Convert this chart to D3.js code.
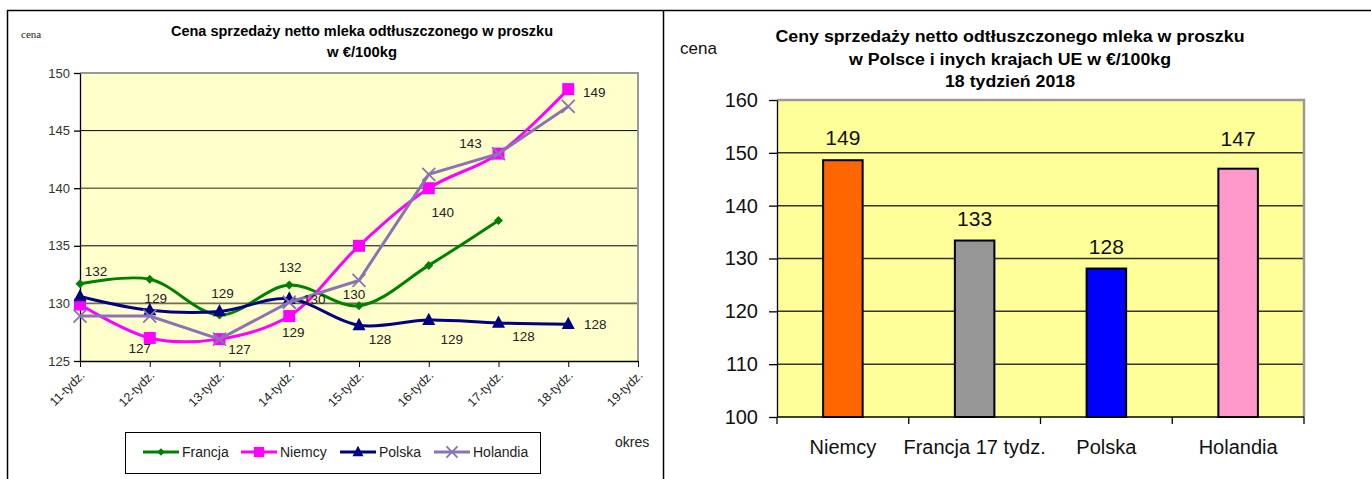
<!DOCTYPE html>
<html><head><meta charset="utf-8">
<script src="https://cdn.jsdelivr.net/npm/d3@7"></script>
<style>
body{margin:0;background:#fff;}
svg{display:block;font-family:"Liberation Sans",Arial,sans-serif;}
.narrow{font-family:"Liberation Sans Narrow","Arial Narrow","Liberation Sans",Arial,sans-serif;}
</style>
</head><body>
<svg id="c" width="1371" height="479"></svg>
<script>
// ---------- data: left chart ----------
const weeks = ["11-tydz.","12-tydz.","13-tydz.","14-tydz.","15-tydz.","16-tydz.","17-tydz.","18-tydz.","19-tydz."];
const francja  = [131.7, 132.1, 129.0, 131.6, 129.8, 133.3, 137.2, null, null];
const niemcy   = [129.9, 127.0, 126.9, 128.9, 135.0, 140.0, 143.0, 148.6, null];
const polska   = [130.6, 129.4, 129.3, 130.4, 128.1, 128.55, 128.3, 128.2, null];
const holandia = [128.9, 128.9, 126.9, 130.1, 132.0, 141.2, 143.0, 147.1, null];
const leftTicks = [125, 130, 135, 140, 145, 150];
const seriesNames = ["Francja", "Niemcy", "Polska", "Holandia"];

// ---------- data: right chart ----------
const countries = ["Niemcy", "Francja 17 tydz.", "Polska", "Holandia"];
const prices = [148.6, 133.4, 128.1, 147.0];
const rightTicks = [100, 110, 120, 130, 140, 150, 160];

// ---------- styling config ----------
const seriesStyle = {
  Francja:  {color:"#008000", marker:"diamond", curve:d3.curveCatmullRom, data:francja},
  Niemcy:   {color:"#FF00FF", marker:"square",  curve:d3.curveCatmullRom, data:niemcy},
  Polska:   {color:"#000080", marker:"triangle",curve:d3.curveCatmullRom, data:polska},
  Holandia: {color:"#8B73B5", marker:"cross",   curve:d3.curveLinear,     data:holandia}
};
// which point gets a value label and where (offset in px from the point)
const labelSpecs = [
  ["Francja",0,16,-12],["Polska",1,6,-12],["Niemcy",1,-10,11],["Francja",2,3,-21],
  ["Holandia",2,20,10],["Francja",3,1,-17],["Niemcy",3,4,16],["Polska",3,25,1],
  ["Francja",4,-5,-11],["Polska",4,21,14],["Polska",5,23,19],["Polska",6,25,14],
  ["Polska",7,27,0],["Niemcy",5,14,24],["Niemcy",6,-28,-10],["Niemcy",7,26,3]
];
const barColors = ["#FF6600", "#969696", "#0000FF", "#FF99CC"];
const barLabelExtra = [0, 0, 0, -8];

const svg = d3.select("#c");

// frame
svg.append("path").attr("d","M7.5,479 V10.5 H1371 M663.5,10.5 V479")
  .attr("fill","none").attr("stroke","#000").attr("stroke-width",1.5);

// ================= LEFT CHART =================
const L = {l:80, r:638, t:73, b:361};
const x = d3.scalePoint().domain(weeks).range([L.l, L.r]);
const y = d3.scaleLinear().domain([125,150]).range([L.b, L.t]);

svg.append("rect").attr("x",L.l).attr("y",L.t).attr("width",L.r-L.l).attr("height",L.b-L.t)
  .attr("fill","#FFFFCC");
svg.append("g").selectAll("line").data(leftTicks.filter(v=>v>125 && v<150)).join("line")
  .attr("x1",L.l).attr("x2",L.r).attr("y1",d=>y(d)).attr("y2",d=>y(d))
  .attr("stroke",(d,i)=> i%2===0 ? "#6e6e50" : "#000").attr("stroke-width",(d,i)=> i%2===0 ? 1.6 : 1);
svg.append("path").attr("d",`M${L.l},${L.t} H${L.r} V${L.b}`).attr("fill","none")
  .attr("stroke","#999").attr("stroke-width",2);

const yAxL = svg.append("g").attr("transform",`translate(${L.l},0)`)
  .call(d3.axisLeft(y).tickValues(leftTicks).tickSize(6).tickSizeOuter(0).tickPadding(4));
yAxL.attr("font-family",null);
yAxL.selectAll("text").attr("class","narrow").attr("font-size",13).attr("fill","#333");
yAxL.selectAll("line,path").attr("stroke","#000").attr("stroke-width",1.3);

const xAxL = svg.append("g").attr("transform",`translate(0,${L.b})`)
  .call(d3.axisBottom(x).tickSize(6).tickSizeOuter(0));
xAxL.attr("font-family",null);
xAxL.select("path").attr("stroke","#000").attr("stroke-width",1.3).attr("d",`M${L.l},0.5H${L.r}`);
xAxL.selectAll("line").attr("stroke","#000");
xAxL.selectAll("text").attr("class","narrow").attr("font-size",12.5).attr("fill","#222")
  .attr("text-anchor","end").attr("dy",null).attr("y",null)
  .attr("transform","translate(5,15) rotate(-45)");

function marker(sel, type, color, s){
  if(type==="diamond"){
    sel.append("path").attr("d",`M0,${-s}L${s},0L0,${s}L${-s},0Z`).attr("fill",color);
  } else if(type==="square"){
    sel.append("rect").attr("x",-s).attr("y",-s).attr("width",2*s).attr("height",2*s).attr("fill",color);
  } else if(type==="triangle"){
    sel.append("path").attr("d",`M0,${-s*1.15}L${s},${s*0.75}L${-s},${s*0.75}Z`).attr("fill",color);
  } else if(type==="cross"){
    sel.append("path").attr("d",`M${-s},${-s}L${s},${s}M${-s},${s}L${s},${-s}`)
      .attr("stroke",color).attr("stroke-width",1.8).attr("fill","none");
  }
}
const markerSize = {diamond:4.5, square:6, triangle:6.5, cross:6.5};

["Francja","Niemcy","Polska","Holandia"].forEach(name=>{
  const st = seriesStyle[name];
  const pts = weeks.map((w,i)=>({w, v:st.data[i]})).filter(d=>d.v!==null);
  const line = d3.line().x(d=>x(d.w)).y(d=>y(d.v)).curve(st.curve);
  svg.append("path").datum(pts).attr("d",line).attr("fill","none")
    .attr("stroke",st.color).attr("stroke-width",3);
  const g = svg.append("g");
  pts.forEach(d=>{
    const m = g.append("g").attr("transform",`translate(${x(d.w)},${y(d.v)})`);
    marker(m, st.marker, st.color, markerSize[st.marker]);
  });
});

svg.append("g").selectAll("text").data(labelSpecs).join("text")
  .attr("class","narrow")
  .attr("x",d=>x(weeks[d[1]])+d[2]).attr("y",d=>y(seriesStyle[d[0]].data[d[1]])+d[3])
  .attr("text-anchor","middle").attr("dominant-baseline","central")
  .attr("font-size",13.5).attr("fill","#222")
  .text(d=>Math.round(seriesStyle[d[0]].data[d[1]]));

svg.append("text").attr("x",21).attr("y",38).attr("font-family","Liberation Serif, Times New Roman, serif")
  .attr("font-size",11).attr("fill","#222").text("cena");
svg.append("text").attr("x",362).attr("y",36).attr("text-anchor","middle").attr("font-weight","bold")
  .attr("font-size",14).attr("textLength",382).attr("lengthAdjust","spacingAndGlyphs")
  .text("Cena sprzedaży netto mleka  odtłuszczonego w proszku");
svg.append("text").attr("x",362).attr("y",57).attr("text-anchor","middle").attr("font-weight","bold")
  .attr("font-size",14).attr("textLength",70).attr("lengthAdjust","spacingAndGlyphs").text("w €/100kg");
svg.append("text").attr("x",615).attr("y",447).attr("class","narrow").attr("font-size",14).attr("fill","#222").text("okres");

const leg = svg.append("g");
leg.append("rect").attr("x",125.5).attr("y",432.5).attr("width",415).attr("height",41)
  .attr("fill","#fff").attr("stroke","#000");
const legX = [143, 241, 340, 434];
seriesNames.forEach((n,i)=>{
  const st = seriesStyle[n];
  const g = leg.append("g").attr("transform",`translate(${legX[i]},452)`);
  g.append("line").attr("x1",0).attr("x2",36).attr("stroke",st.color).attr("stroke-width",3);
  const m = g.append("g").attr("transform","translate(18,0)");
  marker(m, st.marker, st.color, markerSize[st.marker]*0.85);
  g.append("text").attr("x",39).attr("y",0).attr("dominant-baseline","central").attr("class","narrow")
    .attr("font-size",14).attr("fill","#222").text(n);
});

// ================= RIGHT CHART =================
const R = {l:777, r:1304, t:100, b:417};
const xb = d3.scaleBand().domain(countries).range([R.l, R.r]).paddingInner(0.7).paddingOuter(0.35);
const yb = d3.scaleLinear().domain([100,160]).range([R.b, R.t]);

svg.append("rect").attr("x",R.l).attr("y",R.t).attr("width",R.r-R.l).attr("height",R.b-R.t)
  .attr("fill","#FFFF99");
svg.append("g").selectAll("line").data(rightTicks.filter(v=>v>100 && v<160)).join("line")
  .attr("x1",R.l).attr("x2",R.r).attr("y1",d=>yb(d)).attr("y2",d=>yb(d))
  .attr("stroke","#333").attr("stroke-width",1.5);
svg.append("path").attr("d",`M${R.l},${R.t} H${R.r} V${R.b}`).attr("fill","none")
  .attr("stroke","#999").attr("stroke-width",2.5);

svg.append("g").selectAll("rect").data(countries).join("rect")
  .attr("x",d=>xb(d)).attr("width",xb.bandwidth())
  .attr("y",(d,i)=>yb(prices[i])).attr("height",(d,i)=>yb(100)-yb(prices[i]))
  .attr("fill",(d,i)=>barColors[i]).attr("stroke","#000").attr("stroke-width",2);

svg.append("g").selectAll("text").data(countries).join("text")
  .attr("x",d=>xb(d)+xb.bandwidth()/2).attr("y",(d,i)=>yb(prices[i])-15+barLabelExtra[i])
  .attr("text-anchor","middle").attr("font-size",21).attr("fill","#111")
  .text((d,i)=>Math.round(prices[i]));

const yAxR = svg.append("g").attr("transform",`translate(${R.l},0)`)
  .call(d3.axisLeft(yb).tickValues(rightTicks).tickSize(8).tickSizeOuter(0).tickPadding(11));
yAxR.selectAll("text").attr("font-size",20).attr("fill","#111").attr("font-family","Liberation Sans, Arial");
yAxR.selectAll("line,path").attr("stroke","#000").attr("stroke-width",1.3);

const bandX = d3.scalePoint().domain(d3.range(countries.length+1)).range([R.l, R.r]);
const xAxR = svg.append("g").attr("transform",`translate(0,${R.b})`);
xAxR.append("line").attr("x1",R.l).attr("x2",R.r).attr("stroke","#000").attr("stroke-width",1.5);
xAxR.selectAll("line.t").data(d3.range(countries.length+1)).join("line").attr("class","t")
  .attr("x1",d=>bandX(d)).attr("x2",d=>bandX(d)).attr("y1",0).attr("y2",7).attr("stroke","#000").attr("stroke-width",1.3);
xAxR.selectAll("text").data(countries).join("text")
  .attr("x",d=>xb(d)+xb.bandwidth()/2).attr("y",37).attr("text-anchor","middle")
  .attr("font-size",20).attr("fill","#111").text(d=>d);

svg.append("text").attr("x",680).attr("y",54).attr("font-size",17).attr("fill","#111").text("cena");
const rt = [["Ceny sprzedaży netto odtłuszczonego mleka w proszku",42,469],
            ["w Polsce i inych  krajach  UE w €/100kg",65,322],
            ["18 tydzień 2018",87,130]];
svg.append("g").selectAll("text").data(rt).join("text")
  .attr("x",1010).attr("y",d=>d[1]).attr("text-anchor","middle").attr("font-weight","bold")
  .attr("font-size",16).attr("textLength",d=>d[2]).attr("lengthAdjust","spacingAndGlyphs")
  .attr("fill","#000").text(d=>d[0]);
</script>
</body></html>
